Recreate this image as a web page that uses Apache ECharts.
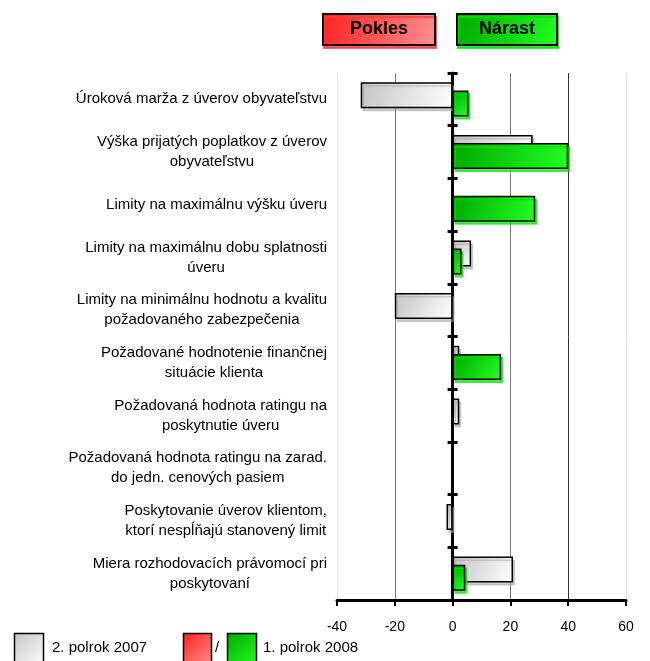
<!DOCTYPE html>
<html><head><meta charset="utf-8">
<script src="https://cdn.jsdelivr.net/npm/echarts@6/dist/echarts.min.js"></script>
<style>html,body{margin:0;padding:0;background:#fff}#c{width:650px;height:661px}</style>
</head><body><div id="c"></div>
<script>
const categories = [
  "Úroková marža z úverov obyvateľstvu",
  "Výška prijatých poplatkov z úverov\nobyvateľstvu",
  "Limity na maximálnu výšku úveru",
  "Limity na maximálnu dobu splatnosti\núveru",
  "Limity na minimálnu hodnotu a kvalitu\npožadovaného zabezpečenia",
  "Požadované hodnotenie finančnej\nsituácie klienta",
  "Požadovaná hodnota ratingu na\nposkytnutie úveru",
  "Požadovaná hodnota ratingu na zarad.\ndo jedn. cenových pasiem",
  "Poskytovanie úverov klientom,\nktorí nespĺňajú stanovený limit",
  "Miera rozhodovacích právomocí pri\nposkytovaní"
];
const values2007 = [-31.8, 27.7, 0, 6.4, -20, 2.3, 2.3, 0, -2.1, 20.9];
const values2008 = [5.5, 40, 28.6, 3.1, 0, 16.8, 0, 0, 0, 4.4];
const xTicks = [-40, -20, 0, 20, 40, 60];
const seriesNames = ["2. polrok 2007", "1. polrok 2008"];
const boxLabels = ["Pokles", "Nárast"];

const FONT = '"Liberation Sans", Arial, sans-serif';
const grayFill = {type:'linear', x:0, y:0, x2:1, y2:1, colorStops:[{offset:0,color:'#c4c4c4'},{offset:1,color:'#ffffff'}]};
const greenFill = {type:'linear', x:0, y:0, x2:1, y2:1, colorStops:[{offset:0,color:'#00a800'},{offset:1,color:'#22ff22'}]};
const redFill = {type:'linear', x:0, y:0, x2:1, y2:1, colorStops:[{offset:0,color:'#ff2020'},{offset:1,color:'#ff9090'}]};
const noZero = arr => arr.map(v => v === 0 ? '-' : v);

const GRID_LEFT = 337, GRID_RIGHT = 24, CHART_W = 650;
const xMin = xTicks[0], xMax = xTicks[xTicks.length - 1];
const zeroOffset = -((CHART_W - GRID_RIGHT - GRID_LEFT) * (0 - xMin) / (xMax - xMin));

const chart = echarts.init(document.getElementById('c'), null, {renderer:'canvas'});
const catAxisBase = {type:'category', data:categories, inverse:true, boundaryGap:true};
chart.setOption({
  animation:false,
  grid:{left:GRID_LEFT, right:GRID_RIGHT, top:73, bottom:61, containLabel:false},
  xAxis:{
    type:'value', min:xMin, max:xMax, interval:20,
    axisLine:{show:true, onZero:false, lineStyle:{color:'#000', width:3}},
    axisTick:{show:true, length:6, lineStyle:{color:'#000', width:2}},
    axisLabel:{margin:20, color:'#000', fontFamily:FONT, fontSize:14},
    splitLine:{show:true, lineStyle:{width:1, color:['#e4e4e4','#7a7a7a','#7a7a7a','#7a7a7a','#303030','#e4e4e4']}}
  },
  yAxis:[
    Object.assign({}, catAxisBase, {
      position:'left',
      axisLine:{show:false, onZero:false},
      axisTick:{show:false},
      axisLabel:{
        margin:10, color:'#000', fontFamily:FONT, fontSize:15, lineHeight:20, align:'right',
        formatter: v => v.split('\n').map(s => '{c|' + s + '}').join('\n'),
        rich:{c:{align:'center', fontFamily:FONT, fontSize:15, lineHeight:20, color:'#000'}}
      }
    }),
    Object.assign({}, catAxisBase, {
      position:'left', offset:zeroOffset,
      axisLine:{show:true, onZero:false, lineStyle:{color:'#000', width:3}},
      axisTick:{show:true, inside:false, length:5, lineStyle:{color:'#000', width:3}},
      axisLabel:{show:false}
    }),
    Object.assign({}, catAxisBase, {
      position:'left', offset:zeroOffset,
      axisLine:{show:false, onZero:false},
      axisTick:{show:true, inside:true, length:5, lineStyle:{color:'#000', width:3}},
      axisLabel:{show:false}
    })
  ],
  series:[
    {
      name:seriesNames[0], type:'bar', yAxisIndex:0, data:noZero(values2007),
      barWidth:26, barGap:'-69%',
      itemStyle:{color:grayFill, borderColor:'#000', borderWidth:1.5,
        shadowColor:'rgba(160,160,160,0.5)', shadowOffsetX:2, shadowOffsetY:3, shadowBlur:0}
    },
    {
      name:seriesNames[1], type:'bar', yAxisIndex:0, data:noZero(values2008),
      barWidth:26, barGap:'-69%',
      itemStyle:{
        color: p => p.value < 0 ? redFill : greenFill,
        borderColor:'#000', borderWidth:1.5,
        shadowColor:'rgba(0,230,0,0.7)', shadowOffsetX:2, shadowOffsetY:3, shadowBlur:0}
    }
  ],
  graphic:[
    {type:'rect', shape:{x:323, y:14, width:112, height:31}, style:{fill:redFill, stroke:'#000', lineWidth:2, shadowColor:'rgba(255,60,60,0.8)', shadowOffsetX:1, shadowOffsetY:3, shadowBlur:0}},
    {type:'text', x:379, y:29.5, style:{text:boxLabels[0], font:'bold 18px ' + FONT, fill:'#000', align:'center', verticalAlign:'middle'}},
    {type:'rect', shape:{x:457, y:14, width:100, height:31}, style:{fill:greenFill, stroke:'#000', lineWidth:2, shadowColor:'rgba(0,230,0,0.8)', shadowOffsetX:1, shadowOffsetY:3, shadowBlur:0}},
    {type:'text', x:507, y:29.5, style:{text:boxLabels[1], font:'bold 18px ' + FONT, fill:'#000', align:'center', verticalAlign:'middle'}},
    {type:'rect', shape:{x:14.5, y:633.5, width:29, height:32}, style:{fill:grayFill, stroke:'#000', lineWidth:1.5}},
    {type:'text', x:52, y:648, style:{text:seriesNames[0], font:'15px ' + FONT, fill:'#000', verticalAlign:'middle'}},
    {type:'rect', shape:{x:183.5, y:633.5, width:28, height:32}, style:{fill:redFill, stroke:'#000', lineWidth:1.5}},
    {type:'text', x:215, y:648, style:{text:'/', font:'15px ' + FONT, fill:'#000', verticalAlign:'middle'}},
    {type:'rect', shape:{x:227.5, y:633.5, width:29, height:32}, style:{fill:greenFill, stroke:'#000', lineWidth:1.5}},
    {type:'text', x:263, y:648, style:{text:seriesNames[1], font:'15px ' + FONT, fill:'#000', verticalAlign:'middle'}}
  ]
});
</script></body></html>
